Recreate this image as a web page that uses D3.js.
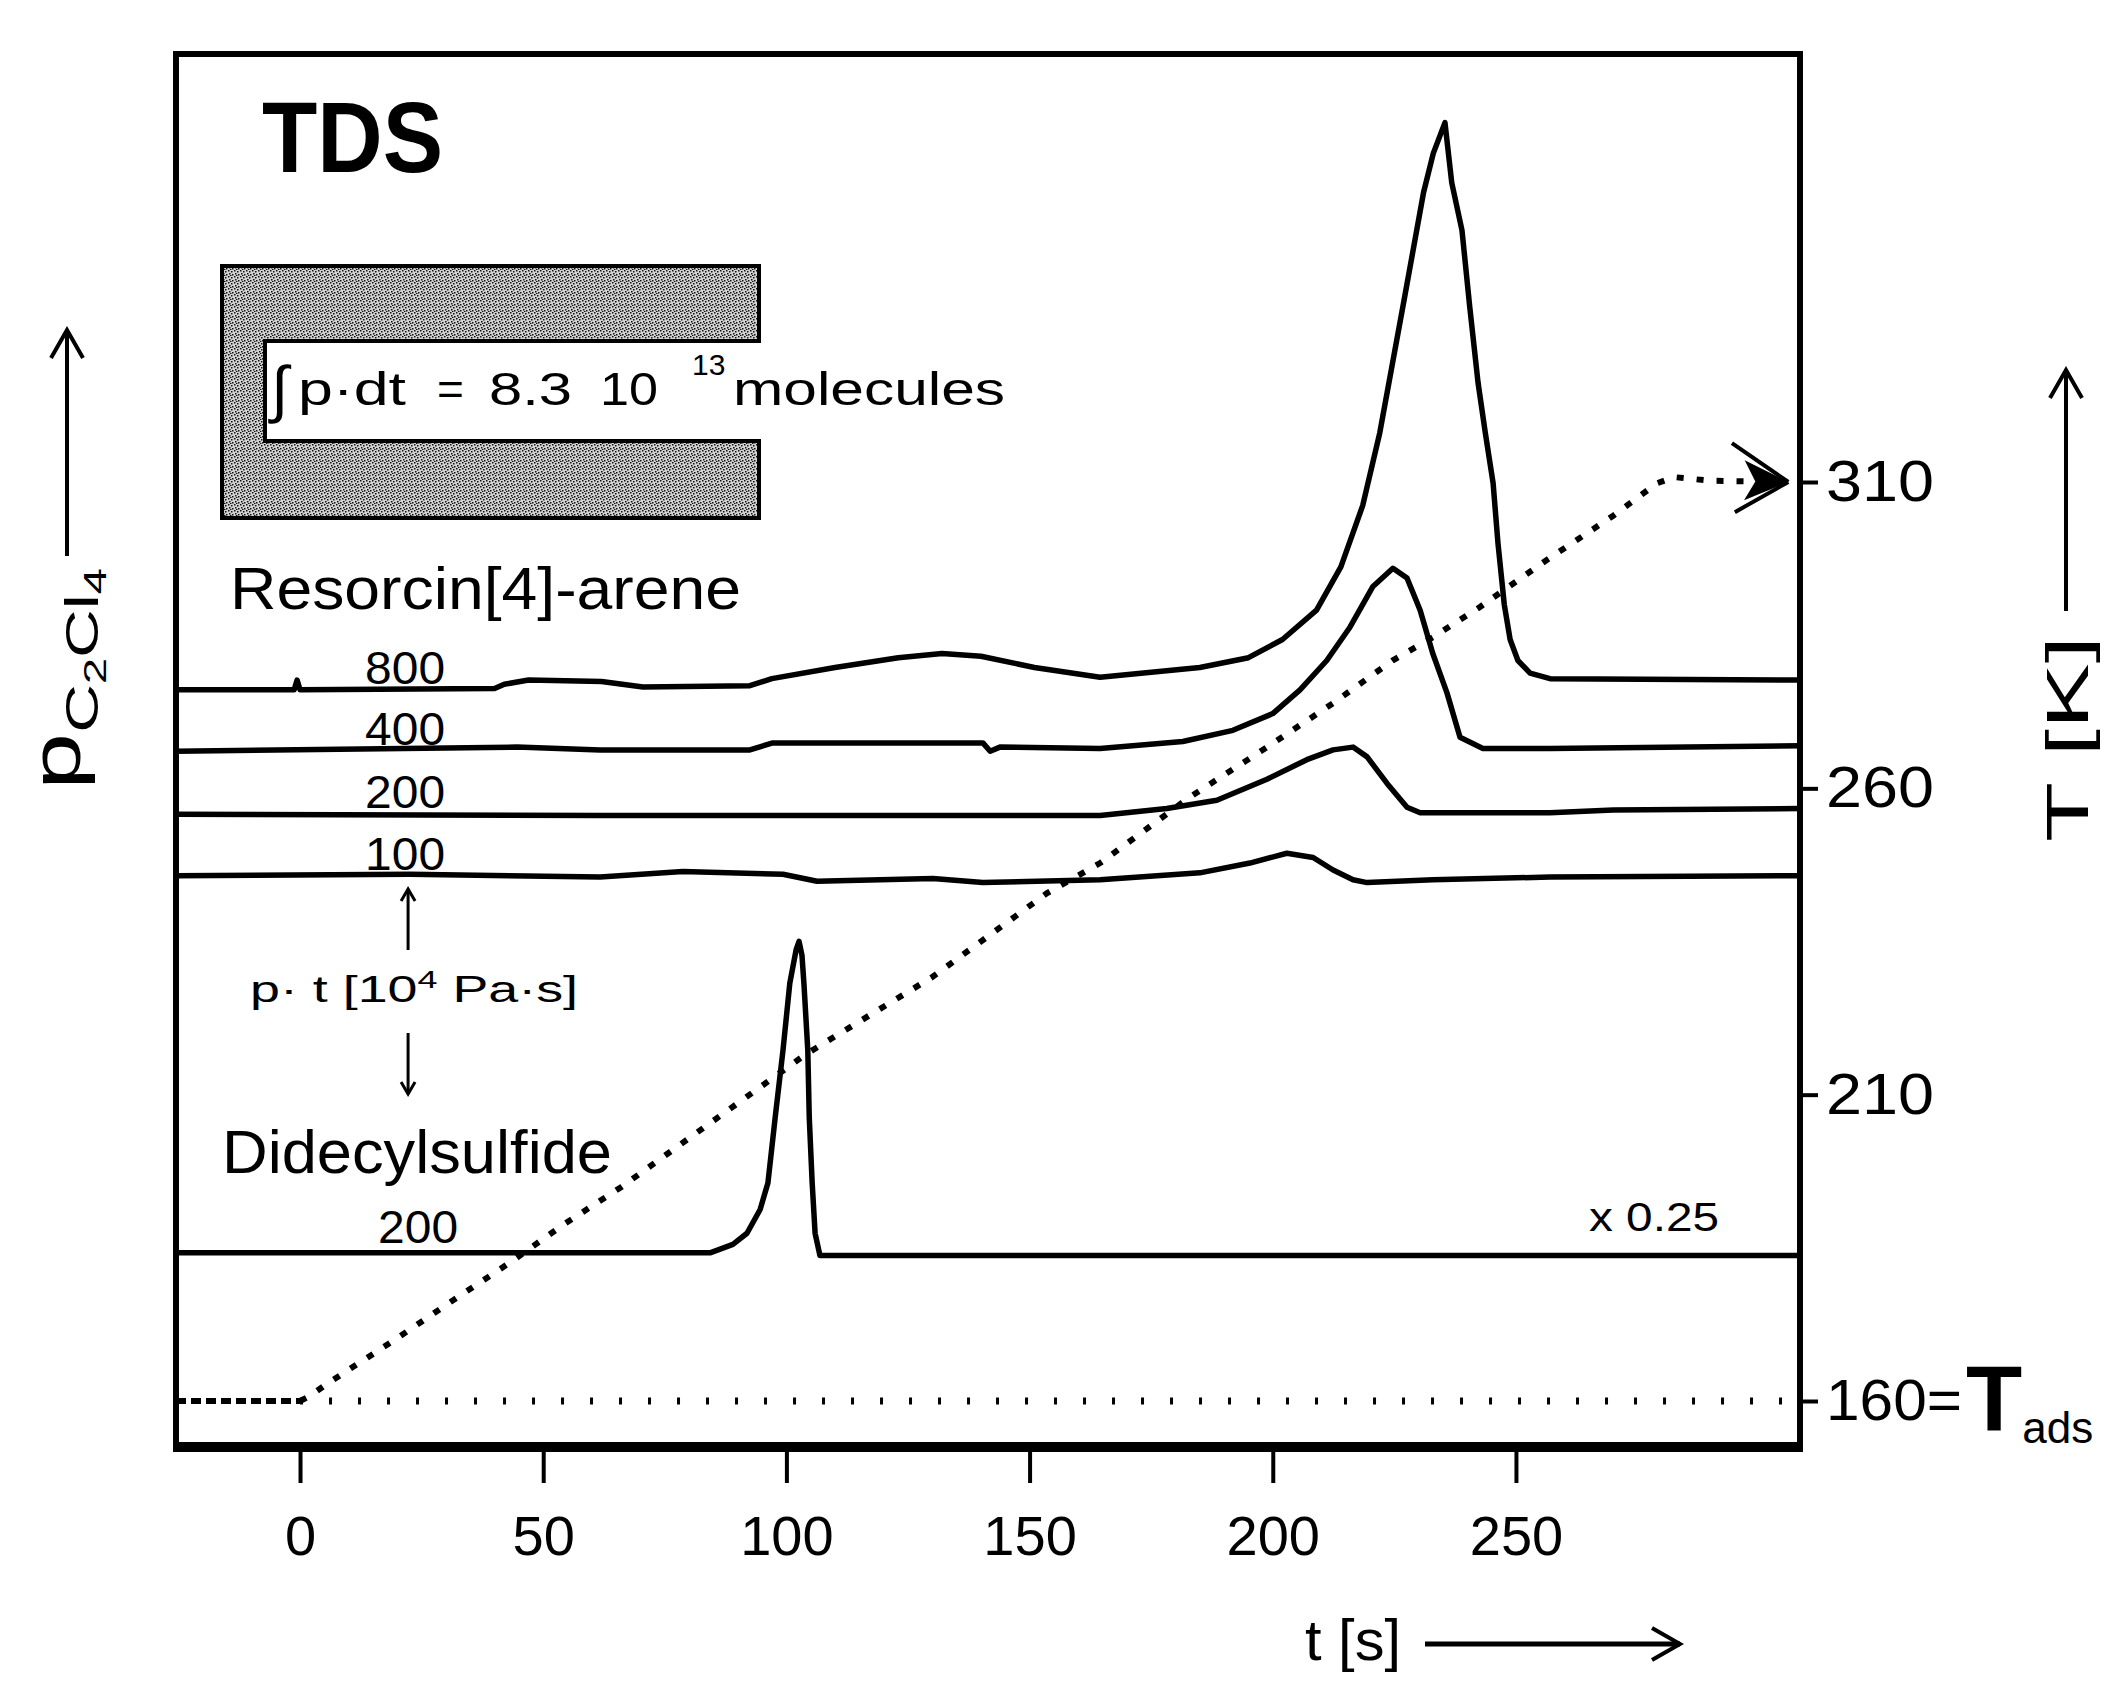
<!DOCTYPE html>
<html><head><meta charset="utf-8">
<script src="https://cdn.jsdelivr.net/npm/d3@7"></script>
<style>
html,body{margin:0;padding:0;background:#fff;}
svg{display:block;}
text{font-family:"Liberation Sans",Arial,Helvetica,sans-serif;fill:#000;}
</style></head><body>
<svg id="chart" width="2106" height="1686"></svg>
<script>
// ---------------- data ----------------
const timeTicks = [0, 50, 100, 150, 200, 250];          // t [s]
const tempTicks = [160, 210, 260, 310];                 // T [K]
const exposureLabels = ["800", "400", "200", "100"];    // p·t [10^-4 Pa·s]
const didecylExposure = "200";
const labelTime = 21.6;                                 // t where exposure labels sit

// p(C2Cl4) traces, [t (s), signal (a.u., incl. vertical offset)]
const resorcin800 = [[-25.5,54.2],[-8,54.2],[-1.2,54.2],[-0.6,54.9],[0,54.2],[40,54.3],[42,54.6],[47,54.9],[62,54.8],[70.5,54.4],[92.5,54.5],[97,55.0],[110,55.8],[123,56.5],[132,56.8],[140,56.6],[151,55.8],[164.5,55.1],[185,55.8],[195,56.5],[202,57.8],[209,59.9],[214,63.0],[218.5,67.4],[222,72.6],[227,82.1],[231,89.8],[233,92.6],[235.4,94.8],[236.8,90.5],[238.9,87.1],[240.5,81.6],[242.2,76.2],[243.7,72.6],[245.3,69.0],[246.3,64.7],[247.6,60.3],[248.8,57.8],[250.4,56.3],[252.9,55.4],[257,55.0],[308.4,54.9]];
const resorcin400 = [[-25.5,49.8],[44.6,50.1],[61.7,49.9],[92.5,49.9],[97.2,50.4],[140.4,50.4],[141.9,49.8],[143.9,50.1],[164.5,50.0],[181.5,50.5],[191.8,51.3],[200,52.5],[205.6,54.2],[211.1,56.3],[215.9,58.7],[220.6,61.6],[224.7,62.9],[227.6,62.2],[230.3,59.9],[232.9,56.8],[235.8,54.0],[238.5,50.8],[243.2,50.0],[257,50.0],[308.4,50.2]];
const resorcin200 = [[-25.5,45.3],[61.7,45.2],[164.5,45.2],[178.2,45.7],[188.5,46.3],[198.8,47.8],[207,49.2],[212.4,49.9],[216.5,50.1],[219.4,49.4],[223.5,47.5],[227.6,45.8],[230.3,45.4],[257,45.4],[270,45.6],[308.4,45.7]];
const resorcin100 = [[-25.5,40.9],[22.6,41.0],[61.7,40.8],[78.7,41.2],[99.3,41.0],[106.3,40.5],[130.1,40.7],[140.4,40.4],[164.5,40.6],[185,41.1],[195.3,41.8],[202.9,42.5],[208.3,42.2],[212.4,41.3],[216.5,40.6],[219.4,40.4],[232.9,40.6],[257,40.8],[308.4,40.9]];
const didecyl200 = [[-25.5,13.9],[84.3,13.9],[89,14.5],[91.9,15.3],[94.6,17.0],[96.2,18.9],[97.7,23.6],[99.3,28.4],[100.7,33.2],[102,35.6],[102.6,36.2],[103.2,35.2],[103.6,33.2],[104.4,28.4],[104.7,23.6],[105.3,18.9],[105.9,15.3],[106.9,13.7],[143.9,13.7],[308.4,13.7]];

// temperature programme, [t (s), T (K)]
const tempProgram = [[-25.5,160],[0,160],[2,160.8],[5,162.5],[10,165.1],[19.5,170],[32.5,177],[43,182.5],[54,188.7],[66,194.9],[104,216.6],[130,229.2],[153.6,242.9],[164.5,247.8],[183,258.6],[198.8,266.7],[212.4,273.9],[224.7,280.9],[233,284.7],[242.6,289.6],[256.4,297.3],[270,304.5],[279,309.8],[282.5,310.8],[290,310.2],[306,310]];
const adsorptionTemp = 160;
const adsorptionSpan = [0, 307];

// ---------------- layout ----------------
const frame = {left:176, right:1800, top:54, bottom:1447};
const svg = d3.select("#chart");
const x  = d3.scaleLinear().domain([-25.5, 308.4]).range([frame.left, frame.right]);
const yP = d3.scaleLinear().domain([0, 100]).range([1447, 50]);
const yT = d3.scaleLinear().domain([160, 310]).range([1401, 482]);
const FONT = "Liberation Sans, Arial, sans-serif";

const defs = svg.append("defs");
// stipple for the integral box
const pat = defs.append("pattern").attr("id","stipple").attr("patternUnits","userSpaceOnUse").attr("width",6).attr("height",6);
pat.append("rect").attr("width",6).attr("height",6).attr("fill","#d2d2d2");
[[0,0],[3,1],[1,3],[4,4],[2,5]].forEach(([a,b])=>pat.append("rect").attr("x",a).attr("y",b).attr("width",1.5).attr("height",1.5).attr("fill","#111"));
// open arrowheads
function openMarker(id, len, half, sw){
  defs.append("marker").attr("id",id).attr("markerUnits","userSpaceOnUse")
    .attr("viewBox",`${-len-4} ${-half-4} ${len+8} ${2*half+8}`)
    .attr("markerWidth",len+8).attr("markerHeight",2*half+8)
    .attr("refX",0).attr("refY",0).attr("orient","auto")
    .append("path").attr("d",`M${-len},${-half} L0,0 L${-len},${half}`)
    .attr("fill","none").attr("stroke","#000").attr("stroke-width",sw).attr("stroke-linejoin","miter");
}
openMarker("bigArrow", 28, 16, 4);
openMarker("smallArrow", 12, 7, 3);
// T-ramp arrowhead
const tm = defs.append("marker").attr("id","tArrow").attr("markerUnits","userSpaceOnUse")
  .attr("viewBox","-64 -44 70 88").attr("markerWidth",70).attr("markerHeight",88)
  .attr("refX",0).attr("refY",0).attr("orient","auto");
tm.append("path").attr("d","M0,0 L-57,-38 M0,0 L-53,31").attr("stroke","#000").attr("stroke-width",4).attr("fill","none");
tm.append("path").attr("d","M0,0 L-44,-21 L-33,0 L-44,19 Z").attr("fill","#000");

// ---------------- traces ----------------
const line = d3.line().x(d=>x(d[0])).y(d=>yP(d[1]));
const traces = [resorcin800, resorcin400, resorcin200, resorcin100, didecyl200];
svg.append("g").selectAll("path").data(traces).join("path")
  .attr("d", line).attr("fill","none").attr("stroke","#000").attr("stroke-width",5.5).attr("stroke-linejoin","round");

// temperature
const tLine = d3.line().x(d=>x(d[0])).y(d=>yT(d[1]));
svg.append("path").attr("d", tLine(tempProgram.filter(d=>d[0]<=0)))
  .attr("fill","none").attr("stroke","#000").attr("stroke-width",6).attr("stroke-dasharray","10,5");
svg.append("path").attr("d", tLine(tempProgram.filter(d=>d[0]>=0)))
  .attr("fill","none").attr("stroke","#000").attr("stroke-width",6).attr("stroke-dasharray","7,13")
  .attr("marker-end","url(#tArrow)");
svg.append("path").attr("d", tLine(adsorptionSpan.map(t=>[t, adsorptionTemp])))
  .attr("fill","none").attr("stroke","#000").attr("stroke-width",7).attr("stroke-dasharray","3,26");

// ---------------- frame ----------------
svg.append("rect").attr("x",frame.left).attr("y",frame.top)
  .attr("width",frame.right-frame.left).attr("height",frame.bottom-frame.top)
  .attr("fill","none").attr("stroke","#000").attr("stroke-width",6);
svg.append("line").attr("x1",frame.left-3).attr("x2",frame.right+3).attr("y1",frame.bottom).attr("y2",frame.bottom)
  .attr("stroke","#000").attr("stroke-width",10);

// ---------------- axes ----------------
const gx = svg.append("g").attr("transform",`translate(0,${frame.bottom})`)
  .call(d3.axisBottom(x).tickValues(timeTicks).tickSize(36).tickPadding(32).tickFormat(d3.format("d")));
gx.select(".domain").remove();
gx.selectAll(".tick line").attr("stroke","#000").attr("stroke-width",4);
gx.selectAll(".tick text").attr("font-size",56).attr("font-family",FONT).attr("fill","#000");

const gy = svg.append("g").attr("transform",`translate(${frame.right},0)`)
  .call(d3.axisRight(yT).tickValues(tempTicks).tickSize(18).tickPadding(8).tickFormat(d3.format("d")));
gy.select(".domain").remove();
gy.selectAll(".tick line").attr("stroke","#000").attr("stroke-width",4);
gy.selectAll(".tick text").attr("font-size",58).attr("font-family",FONT).attr("fill","#000")
  .attr("textLength",108).attr("lengthAdjust","spacingAndGlyphs");
gy.selectAll(".tick text").filter(d=>d===160).text("160=").attr("textLength",136);
// "T_ads" after the 160 tick label
const tads = svg.append("text").attr("x",1966).attr("y",yT(adsorptionTemp)+30);
tads.append("tspan").attr("font-weight","bold").attr("font-size",92).text("T");
tads.append("tspan").attr("font-size",44).attr("dy",12).text("ads");

// axis titles
svg.append("line").attr("x1",67).attr("x2",67).attr("y1",556).attr("y2",330)
  .attr("stroke","#000").attr("stroke-width",4).attr("marker-end","url(#bigArrow)");
const pl = svg.append("text").attr("transform","translate(80,790) rotate(-90)").attr("font-size",70)
  .attr("textLength",222).attr("lengthAdjust","spacingAndGlyphs");
pl.append("tspan").text("p");
pl.append("tspan").attr("font-size",46).attr("dy",18).text("C");
pl.append("tspan").attr("font-size",32).attr("dy",8).text("2");
pl.append("tspan").attr("font-size",46).attr("dy",-8).text("Cl");
pl.append("tspan").attr("font-size",32).attr("dy",8).text("4");

svg.append("line").attr("x1",2066).attr("x2",2066).attr("y1",611).attr("y2",370)
  .attr("stroke","#000").attr("stroke-width",4).attr("marker-end","url(#bigArrow)");
svg.append("text").attr("transform","translate(2088,842) rotate(-90)").attr("font-size",60)
  .attr("textLength",206).attr("lengthAdjust","spacingAndGlyphs").text("T [K]");

svg.append("text").attr("x",1305).attr("y",1660).attr("font-size",58).attr("textLength",96).attr("lengthAdjust","spacingAndGlyphs").text("t [s]");
svg.append("line").attr("x1",1425).attr("x2",1680).attr("y1",1644).attr("y2",1644)
  .attr("stroke","#000").attr("stroke-width",5).attr("marker-end","url(#bigArrow)");

// ---------------- annotations ----------------
svg.append("text").attr("x",262).attr("y",172).attr("font-size",100).attr("font-weight","bold")
  .attr("textLength",181).attr("lengthAdjust","spacingAndGlyphs").text("TDS");

svg.append("path").attr("d","M222,266 H759 V341 H265 V441 H759 V518 H222 Z")
  .attr("fill","url(#stipple)").attr("stroke","#000").attr("stroke-width",4);
svg.append("text").attr("x",271).attr("y",410).attr("font-size",62).attr("font-style","italic").text("∫");
svg.append("text").attr("x",298).attr("y",405).attr("font-size",46).attr("textLength",108).attr("lengthAdjust","spacingAndGlyphs").text("p·dt");
svg.append("text").attr("x",437).attr("y",405).attr("font-size",46).text("=");
svg.append("text").attr("x",489).attr("y",405).attr("font-size",46).attr("textLength",83).attr("lengthAdjust","spacingAndGlyphs").text("8.3");
svg.append("text").attr("x",600).attr("y",405).attr("font-size",46).attr("textLength",58).attr("lengthAdjust","spacingAndGlyphs").text("10");
svg.append("text").attr("x",692).attr("y",375).attr("font-size",30).text("13");
svg.append("text").attr("x",733).attr("y",405).attr("font-size",46).attr("textLength",272).attr("lengthAdjust","spacingAndGlyphs").text("molecules");

svg.append("text").attr("x",230).attr("y",609).attr("font-size",60)
  .attr("textLength",511).attr("lengthAdjust","spacingAndGlyphs").text("Resorcin[4]-arene");

const resTraces = [resorcin800, resorcin400, resorcin200, resorcin100];
svg.append("g").selectAll("text").data(exposureLabels).join("text")
  .attr("x", x(labelTime)).attr("y",(d,i)=>yP(resTraces[i][0][1]) - 6)
  .attr("text-anchor","middle").attr("font-size",46)
  .attr("textLength",80).attr("lengthAdjust","spacingAndGlyphs").text(d=>d);

svg.append("line").attr("x1",x(labelTime)+3).attr("x2",x(labelTime)+3).attr("y1",950).attr("y2",889)
  .attr("stroke","#000").attr("stroke-width",3).attr("marker-end","url(#smallArrow)");
const ptl = svg.append("text").attr("x",250).attr("y",1002).attr("font-size",36)
  .attr("textLength",328).attr("lengthAdjust","spacingAndGlyphs");
ptl.append("tspan").text("p· t  [10");
ptl.append("tspan").attr("font-size",24).attr("dy",-14).text("4");
ptl.append("tspan").attr("dy",14).text(" Pa·s]");
svg.append("line").attr("x1",x(labelTime)+3).attr("x2",x(labelTime)+3).attr("y1",1033).attr("y2",1094)
  .attr("stroke","#000").attr("stroke-width",3).attr("marker-end","url(#smallArrow)");

svg.append("text").attr("x",222).attr("y",1173).attr("font-size",62)
  .attr("textLength",390).attr("lengthAdjust","spacingAndGlyphs").text("Didecylsulfide");
svg.append("text").attr("x", x(labelTime)+13).attr("y", yP(didecyl200[0][1]) - 10)
  .attr("text-anchor","middle").attr("font-size",46)
  .attr("textLength",80).attr("lengthAdjust","spacingAndGlyphs").text(didecylExposure);
svg.append("text").attr("x",1589).attr("y",1231).attr("font-size",40)
  .attr("textLength",130).attr("lengthAdjust","spacingAndGlyphs").text("x 0.25");
</script>
</body></html>
